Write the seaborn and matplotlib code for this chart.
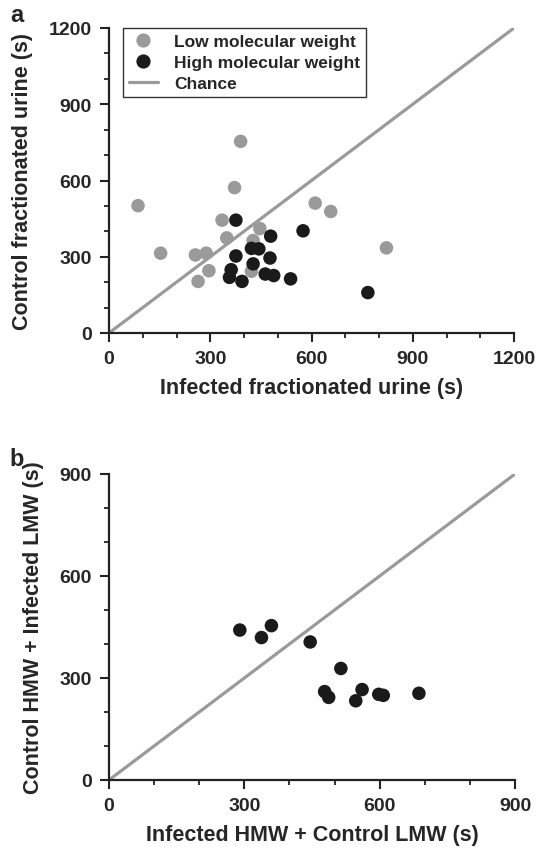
import numpy as np
import pandas as pd
import matplotlib
matplotlib.use("Agg")
import matplotlib.pyplot as plt
import seaborn as sns
from matplotlib.ticker import MultipleLocator

# Panel a data
lmw_x = [86, 153, 256, 288, 264, 296, 335, 349, 372, 390, 447, 427, 422, 611, 657, 822]
lmw_y = [501, 314, 307, 314, 203, 245, 444, 374, 572, 754, 411, 364, 243, 511, 478, 335]
hmw_x = [376, 376, 362, 357, 394, 422, 444, 427, 479, 477, 463, 488, 538, 575, 767]
hmw_y = [444, 303, 249, 219, 203, 333, 331, 272, 381, 295, 232, 226, 213, 402, 159]

# Panel b data
b_x = [290, 338, 360, 446, 514, 478, 487, 547, 561, 598, 608, 687]
b_y = [441, 419, 454, 406, 328, 260, 243, 233, 266, 252, 249, 255]

a_ticks = [0, 300, 600, 900, 1200]
b_ticks = [0, 300, 600, 900]

sns.set_theme(style="ticks")
plt.rcParams['font.family'] = ['Liberation Sans', 'DejaVu Sans']
plt.rcParams['font.weight'] = 'bold'

GRAY = "#9a9a9a"
BLACK = "#1a1a1a"
DARK = "#222222"

fig = plt.figure(figsize=(5.4, 8.54), dpi=100)
W, H = 540, 854
ax1 = fig.add_axes([109 / W, 1 - 334 / H, (514 - 109) / W, (334 - 29) / H])
ax2 = fig.add_axes([109 / W, 1 - 781 / H, (515 - 109) / W, (781 - 475) / H])

df_a = pd.DataFrame({
    "x": lmw_x + hmw_x,
    "y": lmw_y + hmw_y,
    "group": ["Low molecular weight"] * len(lmw_x) + ["High molecular weight"] * len(hmw_x),
})
df_b = pd.DataFrame({"x": b_x, "y": b_y})

ax1.plot([0, 1200], [0, 1200], color=GRAY, lw=2.3, label="Chance", zorder=1)
sns.scatterplot(data=df_a, x="x", y="y", hue="group",
                palette={"Low molecular weight": GRAY, "High molecular weight": BLACK},
                s=95, edgecolor="none", ax=ax1, zorder=3, legend=True)

ax2.plot([0, 900], [0, 900], color=GRAY, lw=2.3, zorder=1)
sns.scatterplot(data=df_b, x="x", y="y", color=BLACK, s=95, edgecolor="none", ax=ax2, zorder=3)

for ax, ticks, xl, yl in [
    (ax1, a_ticks, "Infected fractionated urine (s)", "Control fractionated urine (s)"),
    (ax2, b_ticks, "Infected HMW + Control LMW (s)", "Control HMW + Infected LMW (s)"),
]:
    lim = ticks[-1]
    ax.set_xlim(0, lim)
    ax.set_ylim(0, lim)
    ax.set_xticks(ticks)
    ax.set_yticks(ticks)
    ax.set_xticklabels([str(t) for t in ticks], fontsize=14, fontweight="bold")
    ax.set_yticklabels([str(t) for t in ticks], fontsize=14, fontweight="bold")
    ax.xaxis.set_minor_locator(MultipleLocator(100))
    ax.yaxis.set_minor_locator(MultipleLocator(100))
    ax.tick_params(which="major", direction="out", length=6.5, width=1.5, color=DARK, pad=6)
    ax.tick_params(which="minor", direction="out", length=3.8, width=1.3, color=DARK)
    for sp in ["top", "right"]:
        ax.spines[sp].set_visible(False)
    for sp in ["left", "bottom"]:
        ax.spines[sp].set_linewidth(1.6)
        ax.spines[sp].set_color(DARK)
    ax.set_xlabel(xl, fontsize=15.5, fontweight="bold", labelpad=7)
    ax.set_ylabel(yl, fontsize=15.5, fontweight="bold", labelpad=11)
    ax.set_facecolor("white")

handles, labels = ax1.get_legend_handles_labels()
order = [labels.index("Low molecular weight"), labels.index("High molecular weight"), labels.index("Chance")]
leg = ax1.legend([handles[i] for i in order], [labels[i] for i in order],
                 loc="upper left", bbox_to_anchor=(0.012, 1.03), frameon=True, fancybox=False,
                 edgecolor="#333333", framealpha=1, prop={"weight": "bold", "size": 12.5},
                 handlelength=1.7, borderpad=0.35, labelspacing=0.35, markerscale=1.05,
                 handletextpad=0.9)
leg.get_frame().set_linewidth(1.0)

fig.text(17 / W, 1 - 15 / H, "a", fontsize=17, fontweight="bold", va="center", ha="center")
fig.text(17 / W, 1 - 460 / H, "b", fontsize=17, fontweight="bold", va="center", ha="center")

fig.savefig("out.png", dpi=100, facecolor="white")
